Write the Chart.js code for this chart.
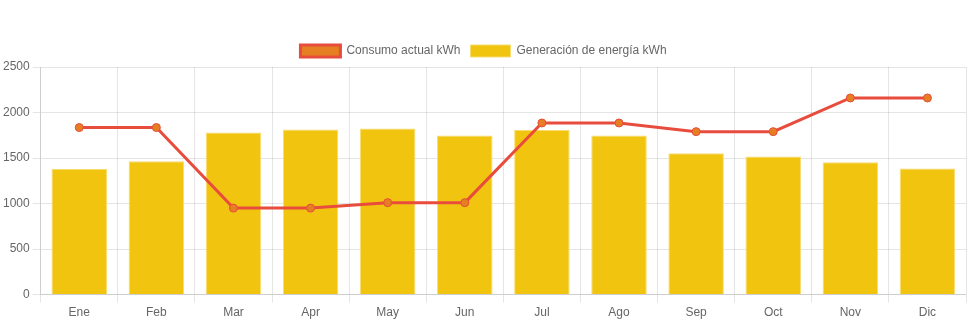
<!DOCTYPE html>
<html>
<head>
<meta charset="utf-8">
<script src="https://cdn.jsdelivr.net/npm/chart.js@4.4.0/dist/chart.umd.min.js"></script>
<style>
  body { margin: 0; background: #fff; }
  #wrap { width: 971px; height: 323px; }
</style>
</head>
<body>
<div id="wrap"><canvas id="myChart" width="971" height="323"></canvas></div>
<script>
const meses = ['Ene', 'Feb', 'Mar', 'Apr', 'May', 'Jun', 'Jul', 'Ago', 'Sep', 'Oct', 'Nov', 'Dic'];
const consumo = [1835, 1835, 950, 950, 1010, 1010, 1885, 1885, 1790, 1790, 2160, 2160];
const generacion = [1380, 1465, 1780, 1813, 1824, 1747, 1808, 1747, 1553, 1516, 1455, 1385];

Chart.defaults.font.family = '"Liberation Sans", Arial, Helvetica, sans-serif';
Chart.defaults.font.size = 12;
Chart.defaults.color = '#666';

const myChart = new Chart(document.getElementById('myChart'), {
  type: 'bar',
  data: {
    labels: meses,
    datasets: [{
      type: 'line',
      label: 'Consumo actual kWh',
      data: consumo,
      backgroundColor: '#e67e22',
      borderColor: '#e74c3c',
      borderWidth: 3,
      pointBackgroundColor: '#e67e22',
      pointBorderColor: '#e74c3c',
      pointBorderWidth: 1,
      pointRadius: 4,
      tension: 0,
      fill: false
    }, {
      label: 'Generación de energía kWh',
      data: generacion,
      backgroundColor: '#f1c40f',
      borderColor: '#f7dc6f',
      borderWidth: 1
    }]
  },
  options: {
    responsive: false,
    animation: false,
    layout: { padding: { top: 35, right: 4 } },
    plugins: {
      legend: {
        labels: { boxWidth: 40, boxHeight: 12 }
      },
      tooltip: { enabled: false }
    },
    scales: {
      y: {
        min: 0,
        max: 2500,
        ticks: {
          stepSize: 500,
          callback: function(value) { return String(value); }
        }
      },
      x: {}
    }
  }
});
</script>
</body>
</html>
